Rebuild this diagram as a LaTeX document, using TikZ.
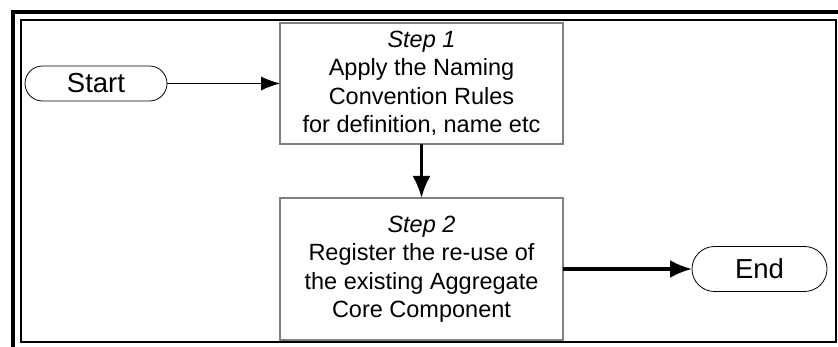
\documentclass[tikz,border=0pt]{standalone}
\usepackage{fontspec}
\setmainfont{Liberation Sans}
\usepackage{tikz}
\usetikzlibrary{arrows.meta, shapes.misc, positioning}

\begin{document}
\begin{tikzpicture}[x=1pt,y=-1pt,every node/.style={outer sep=0pt,font=\fontsize{23.5}{28.5}\selectfont}]
\tikzstyle{stepbox}=[draw=black!50,line width=1.3pt,minimum width=283pt,align=center,inner sep=0pt]
\tikzstyle{terminal}=[draw,rounded rectangle,line width=0.8pt,inner sep=0pt,font=\fontsize{27.5}{30}\selectfont]
\tikzstyle{flow}=[line width=0.9pt,-{Latex[length=19pt,width=14pt]}]
\tikzstyle{bigflow}=[line width=3.2pt,-{Latex[length=22pt,width=18pt]}]

\useasboundingbox (0,0) rectangle (838,347);
\draw [line width=4pt] (13,347) -- (13,12) -- (838,12);
\draw [line width=2pt] (21,20) rectangle (836,342);

\node (start) [terminal, minimum width=142pt, minimum height=35pt] at (96,83.5) {Start};
\node (step1) [stepbox, minimum height=121pt] at (421.5,83.5) {\textit{Step 1}\\Apply the Naming\\Convention Rules\\for definition, name etc};
\node (step2) [stepbox, minimum height=142pt] at (421.5,269) {\textit{Step 2}\\Register the re-use of\\the existing Aggregate\\Core Component};
\node (end) [terminal, minimum width=135pt, minimum height=45pt] at (759.5,269) {End};

\draw [flow] (start) -- (step1);
\draw [bigflow] (step1) -- (step2);
\draw [bigflow] (step2) -- (end);
\end{tikzpicture}
\end{document}
